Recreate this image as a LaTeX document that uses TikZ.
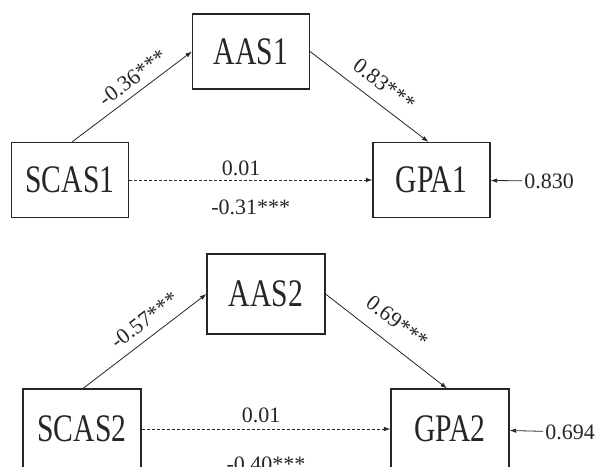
\documentclass[tikz,border=0pt]{standalone}
\usepackage{fontspec}
\setmainfont{Liberation Serif}
\usepackage{tikz}
\usetikzlibrary{positioning,arrows.meta,calc}
\definecolor{coll}{rgb}{0.15, 0.15, 0.15}
\newcommand{\narrow}[1]{\scalebox{0.76}[1]{#1}}

\begin{document}
\begin{tikzpicture}[x=1pt, y=-1pt, >={Latex[length=6.5pt,width=4.5pt]}, coll,
    var/.style={draw=coll, line width=1.1pt, minimum width=117pt, minimum height=75pt, inner sep=0pt, font=\fontsize{39}{39}\selectfont},
    path/.style={->, line width=0.8pt},
    coef/.style={font=\fontsize{22}{22}\selectfont, inner sep=2pt}]
    \useasboundingbox (0,0) rectangle (597,466);
    \clip (0,0) rectangle (597,466);
    % model 1
    \node[var] (AAS1)  at (251,51.5) {\narrow{AAS1}};
    \node[var] (SCAS1) at (70,180)   {\narrow{SCAS1}};
    \node[var] (GPA1)  at (431.5,180) {\narrow{GPA1}};
    \node[coef] (E1) at (549,181) {0.830};
    \draw[path] ($(SCAS1.north)+(2,0)$) -- node[coef, sloped, above=5pt, pos=0.58] {-0.36***} (AAS1.west);
    \draw[path] (AAS1.east) -- node[coef, sloped, above=9pt, pos=0.53] {0.83***} ($(GPA1.north)+(-3,0)$);
    \draw[path, dash pattern=on 3pt off 2pt] (SCAS1) -- node[coef, above=2pt, pos=0.46] {0.01} node[coef, below=17pt] {-0.31***} (GPA1);
    \draw[path] (E1) -- (GPA1);
    % model 2
    \node[var, minimum width=118pt, minimum height=80pt] (AAS2)  at (266,294) {\narrow{AAS2}};
    \node[var, minimum width=118pt, minimum height=80pt] (SCAS2) at (82,429)  {\narrow{SCAS2}};
    \node[var, minimum width=118pt, minimum height=80pt] (GPA2)  at (450,429) {\narrow{GPA2}};
    \node[coef] (E2) at (570,432) {0.694};
    \draw[path] ($(SCAS2.north)+(1,0)$) -- node[coef, sloped, above=7pt, pos=0.58] {-0.57***} (AAS2.west);
    \draw[path] (AAS2.east) -- node[coef, sloped, above=12pt, pos=0.48] {0.69***} ($(GPA2.north)+(-3,0)$);
    \draw[path, dash pattern=on 3pt off 2pt] (SCAS2) -- node[coef, above=4pt, pos=0.48] {0.01} node[coef, below=25pt, pos=0.5] {-0.40***} (GPA2);
    \draw[path] (E2) -- (GPA2);
\end{tikzpicture}
\end{document}
